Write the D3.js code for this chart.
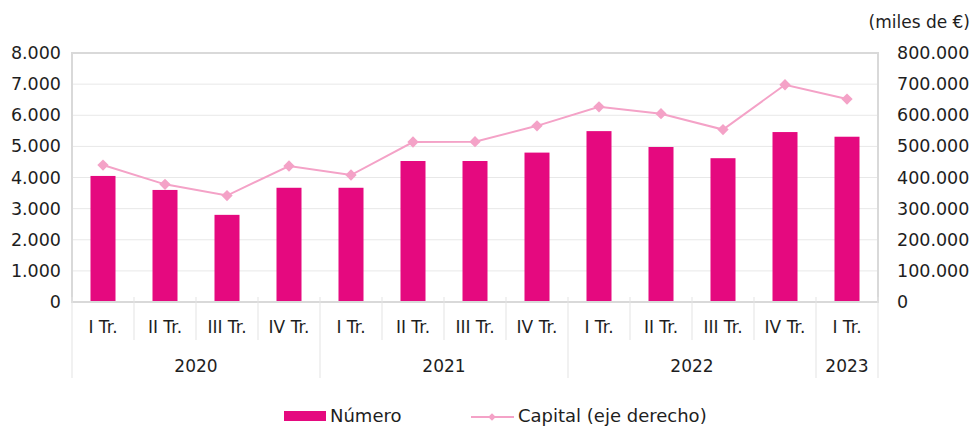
<!DOCTYPE html>
<html lang="es">
<head>
<meta charset="utf-8">
<title>Número y capital por trimestre</title>
<script src="https://cdn.jsdelivr.net/npm/d3@7/dist/d3.min.js"></script>
<style>
	body { margin: 0; background: #fff; }
	svg text { font-family: "DejaVu Sans", sans-serif; fill: #1e1e1e; }
</style>
</head>
<body>
<svg id="chart" width="973" height="426"></svg>
<script>
// data
const quarters = ["I Tr.", "II Tr.", "III Tr.", "IV Tr.", "I Tr.", "II Tr.", "III Tr.", "IV Tr.",
                  "I Tr.", "II Tr.", "III Tr.", "IV Tr.", "I Tr."];
const years = ["2020", "2021", "2022", "2023"];
const quartersPerYear = [4, 4, 4, 1];
const numero = [4050, 3600, 2800, 3670, 3670, 4530, 4530, 4800, 5490, 4980, 4620, 5460, 5310];
const capital = [440000, 378000, 342000, 437000, 408000, 514000, 515000, 566000, 627000, 605000, 554000, 698000, 652000];
const leftTicks = [0, 1000, 2000, 3000, 4000, 5000, 6000, 7000, 8000];
const rightTicks = [0, 100000, 200000, 300000, 400000, 500000, 600000, 700000, 800000];

const svg = d3.select("#chart");
const x0 = 72, x1 = 878, yTop = 53, yBot = 302;
const barColor = "#e5097f", lineColor = "#f4a2c7";

const fmt = d3.formatLocale({ decimal: ",", thousands: ".", grouping: [3], currency: ["", "€"] }).format(",d");

const x = d3.scaleBand().domain(d3.range(quarters.length)).range([x0, x1]);
const yL = d3.scaleLinear().domain([0, 8000]).range([yBot, yTop]);
const yR = d3.scaleLinear().domain([0, 800000]).range([yBot, yTop]);

// gridlines
svg.append("g").selectAll("line").data(leftTicks.slice(1, -1)).join("line")
	.attr("x1", x0).attr("x2", x1)
	.attr("y1", d => yL(d)).attr("y2", d => yL(d))
	.attr("stroke", "#e8e8e8").attr("stroke-width", 1);

// plot border
svg.append("path")
	.attr("d", `M${x0},${yBot}V${yTop}H${x1}V${yBot}`)
	.attr("fill", "none").attr("stroke", "#d9d9d9").attr("stroke-width", 2);

// left axis labels
const gl = svg.append("g").attr("transform", "translate(61,0)")
	.call(d3.axisLeft(yL).tickValues(leftTicks).tickFormat(fmt).tickSize(0).tickPadding(0));
gl.select(".domain").remove();

// right axis labels
const gr = svg.append("g").attr("transform", "translate(897,0)")
	.call(d3.axisRight(yR).tickValues(rightTicks).tickFormat(fmt).tickSize(0).tickPadding(0));
gr.select(".domain").remove();

svg.selectAll(".tick text").attr("font-size", 17.5).attr("font-family", "DejaVu Sans").attr("fill", "#1e1e1e");

svg.append("text").attr("x", 970).attr("y", 22).attr("dy", "0.35em").attr("text-anchor", "end")
	.attr("font-size", 17).text("(miles de €)");

// bars
svg.append("g").selectAll("rect").data(numero).join("rect")
	.attr("x", (d, i) => x(i) + x.bandwidth() / 2 - 12.5)
	.attr("width", 25)
	.attr("y", d => yL(d))
	.attr("height", d => yBot - yL(d))
	.attr("fill", barColor);

// line
const line = d3.line().x((d, i) => x(i) + x.bandwidth() / 2).y(d => yR(d));
svg.append("path").datum(capital).attr("d", line)
	.attr("fill", "none").attr("stroke", lineColor).attr("stroke-width", 2);

const diamond = d3.symbol(d3.symbolSquare, 64);
svg.append("g").selectAll("path").data(capital).join("path")
	.attr("d", diamond)
	.attr("transform", (d, i) => `translate(${x(i) + x.bandwidth() / 2},${yR(d)}) rotate(45)`)
	.attr("fill", lineColor);

// bottom axis line
svg.append("line").attr("x1", x0 - 1).attr("x2", x1 + 1).attr("y1", yBot).attr("y2", yBot)
	.attr("stroke", "#d9d9d9").attr("stroke-width", 2);

// category separators
const ax = svg.append("g").attr("stroke", "#e3e3e3").attr("stroke-width", 1);
const yearStarts = [0];
quartersPerYear.forEach((n, i) => yearStarts.push(yearStarts[i] + n));
for (let i = 0; i <= quarters.length; i++) {
	const xp = i < quarters.length ? x(i) : x1;
	const isYear = yearStarts.includes(i);
	ax.append("line").attr("x1", xp).attr("x2", xp)
		.attr("y1", yBot - 5).attr("y2", isYear ? 378 : 340);
}

svg.append("g").selectAll("text").data(quarters).join("text")
	.attr("x", (d, i) => x(i) + x.bandwidth() / 2)
	.attr("y", 327).attr("dy", "0.35em")
	.attr("text-anchor", "middle").attr("font-size", 17)
	.text(d => d);

svg.append("g").selectAll("text").data(years).join("text")
	.attr("x", (d, i) => {
		const a = x(yearStarts[i]);
		const bIdx = yearStarts[i + 1];
		const b = bIdx < quarters.length ? x(bIdx) : x1;
		return (a + b) / 2;
	})
	.attr("y", 366).attr("dy", "0.35em")
	.attr("text-anchor", "middle").attr("font-size", 17)
	.text(d => d);

// legend
const lg = svg.append("g");
lg.append("rect").attr("x", 284).attr("y", 411).attr("width", 42).attr("height", 10).attr("fill", barColor);
lg.append("text").attr("x", 330).attr("y", 416).attr("dy", "0.35em").attr("font-size", 18).text("Número");
lg.append("line").attr("x1", 471).attr("x2", 514).attr("y1", 417).attr("y2", 417)
	.attr("stroke", lineColor).attr("stroke-width", 2);
lg.append("path").attr("d", d3.symbol(d3.symbolSquare, 30)).attr("transform", "translate(492,417) rotate(45)")
	.attr("fill", lineColor);
lg.append("text").attr("x", 518).attr("y", 416).attr("dy", "0.35em").attr("font-size", 18).text("Capital (eje derecho)");
</script>
</body>
</html>
